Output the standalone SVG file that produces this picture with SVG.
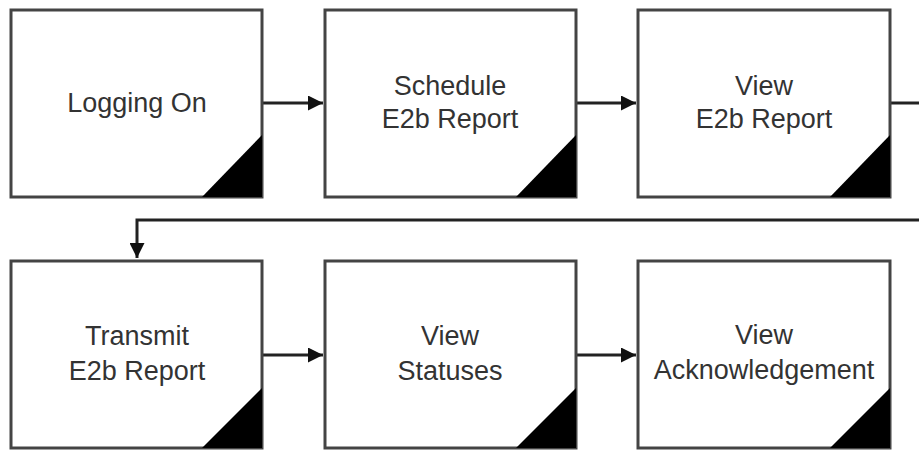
<svg xmlns="http://www.w3.org/2000/svg" width="919" height="451" viewBox="0 0 919 451">
<style>
.box{fill:#fff;stroke:#444;stroke-width:3}
.tri{fill:#000}
.lbl{font-family:"Liberation Sans",Arial,sans-serif;font-size:27px;fill:#333;text-anchor:middle}
.con{fill:none;stroke:#222;stroke-width:3}
</style>
<defs>
<marker id="ah" viewBox="0 0 10 10" refX="10" refY="5" markerWidth="6.5" markerHeight="5" markerUnits="strokeWidth" orient="auto">
<path d="M0,0 L10,5 L0,10 Z" fill="#111"/>
</marker>
</defs>
<rect width="919" height="451" fill="#fff"/>
<g id="connectors">
<path class="con" d="M262,103 H323" marker-end="url(#ah)"/>
<path class="con" d="M576,103 H636" marker-end="url(#ah)"/>
<path class="con" d="M890,103 H919"/>
<path class="con" d="M919,220 H137 V258" marker-end="url(#ah)"/>
<path class="con" d="M262,355 H323" marker-end="url(#ah)"/>
<path class="con" d="M576,355 H636" marker-end="url(#ah)"/>
</g>
<g id="n1">
<rect class="box" x="11" y="10" width="251" height="187"/>
<path class="tri" d="M202,197 L262,135 L262,197 Z"/>
<text class="lbl" x="137" y="112">Logging On</text>
</g>
<g id="n2">
<rect class="box" x="325" y="10" width="251" height="187"/>
<path class="tri" d="M516,197 L576,135 L576,197 Z"/>
<text class="lbl" x="450" y="95">Schedule</text>
<text class="lbl" x="450" y="128">E2b Report</text>
</g>
<g id="n3">
<rect class="box" x="638" y="10" width="252" height="187"/>
<path class="tri" d="M830,197 L890,135 L890,197 Z"/>
<text class="lbl" x="764" y="95">View</text>
<text class="lbl" x="764" y="128">E2b Report</text>
</g>
<g id="n4">
<rect class="box" x="11" y="261" width="251" height="187"/>
<path class="tri" d="M202,448 L262,388 L262,448 Z"/>
<text class="lbl" x="137" y="345">Transmit</text>
<text class="lbl" x="137" y="380">E2b Report</text>
</g>
<g id="n5">
<rect class="box" x="325" y="261" width="251" height="187"/>
<path class="tri" d="M516,448 L576,388 L576,448 Z"/>
<text class="lbl" x="450" y="345">View</text>
<text class="lbl" x="450" y="380">Statuses</text>
</g>
<g id="n6">
<rect class="box" x="638" y="261" width="252" height="187"/>
<path class="tri" d="M830,448 L890,388 L890,448 Z"/>
<text class="lbl" x="764" y="344">View</text>
<text class="lbl" x="764" y="379">Acknowledgement</text>
</g>
</svg>
